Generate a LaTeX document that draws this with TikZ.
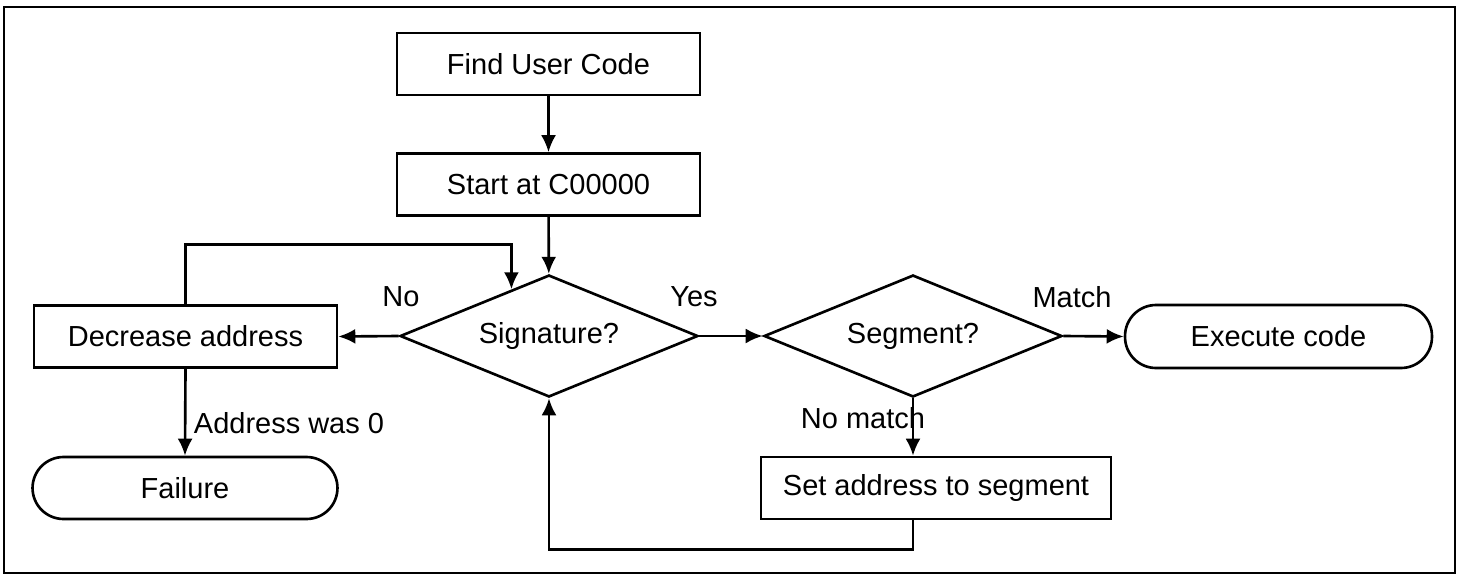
\documentclass[tikz,border=0pt]{standalone}
\usepackage{fontspec}
\setmainfont{Liberation Sans}
\usetikzlibrary{shapes.geometric,arrows.meta,calc}

\begin{document}
\begin{tikzpicture}[x=0.02cm, y=-0.02cm, line width=1.5pt,
                    font=\fontsize{16.5}{20}\selectfont,
                    stepbox/.style={draw, rectangle, minimum width=6.06cm, minimum height=1.24cm, inner sep=0pt},
                    endbox/.style={draw, rectangle, rounded corners=0.62cm, minimum width=6.1cm, minimum height=1.24cm, inner sep=0pt},
                    testbox/.style={draw, diamond, aspect=2.44, minimum width=5.96cm, minimum height=2.44cm, inner sep=0pt},
                    arrow/.style={-{Latex[length=0.34cm, width=0.3cm]}}]
                \useasboundingbox (0,0) rectangle (1460,575);
                \draw (4,7) rectangle (1455,573);
                \node[stepbox] (find) at (548.5,64) {Find User Code};
                \node[stepbox] (start) at (548.5,184.5) {Start at C00000};
                \node[testbox] (sig) at (549,336) {Signature?};
                \node[testbox] (seg) at (913,336) {Segment?};
                \node[stepbox] (dec) at (185.5,336.5) {Decrease address};
                \node[endbox] (fail) at (185,488) {Failure};
                \node[endbox, minimum width=6.14cm, minimum height=1.26cm] (exec) at (1278.5,336.5) {Execute code};
                \node[stepbox, minimum width=7cm] (set) at (936,488) {Set address to segment};
                \coordinate (sigin) at ($(sig.west)!0.75!(sig.north)$);
                % labels
                \node (no) at (401,297) {No};
                \node (yes) at (694,297) {Yes};
                \node (match) at (1072,297) {Match};
                \node (nomatch) at (863,418) {No match};
                \node (zero) at (289,423) {Address was 0};
                % connectors
                \draw[arrow] (find) -- (start);
                \draw[arrow] (start) -- (sig);
                \draw[arrow] (sig.west) -- (dec.east);
                \draw[arrow] (sig.east) -- (seg.west);
                \draw[arrow] (seg.east) -- (exec.west);
                \draw[arrow] (seg.south) -- (seg.south |- set.north);
                \draw[arrow] (dec.south) -- (fail.north);
                \draw[arrow] (dec.north) -- ++(0,-60) -| (sigin);
                \draw[arrow] (set.south -| seg.south) -- ++(0,29) -| (sig.south);
            \end{tikzpicture}
\end{document}
